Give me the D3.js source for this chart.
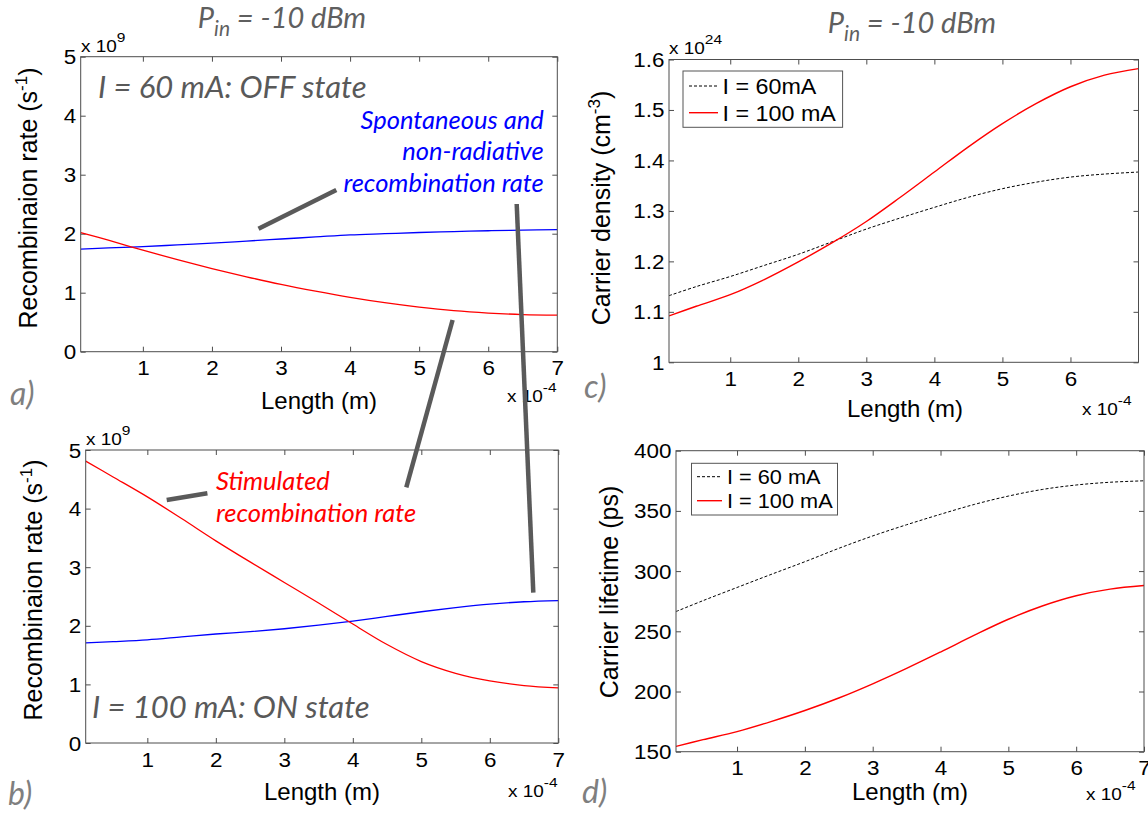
<!DOCTYPE html>
<html>
<head>
<meta charset="utf-8">
<script src="https://cdn.jsdelivr.net/npm/d3@7"></script>
<style>
  body { margin: 0; background: #fff; }
  svg { display: block; }
</style>
</head>
<body>
<svg id="fig" width="1148" height="814"></svg>
<script>
// Position along the waveguide, in units of 1e-4 m
const lengths = [0.1, 0.5, 1, 1.5, 2, 2.5, 3, 3.5, 4, 4.5, 5, 5.5, 6, 6.5, 7];

// Recombination rates (x 1e9 s^-1)
const spontOff = [1.74, 1.76, 1.78, 1.81, 1.84, 1.875, 1.91, 1.945, 1.98, 2.0, 2.02, 2.035, 2.05, 2.06, 2.07];
const stimOff  = [2.02, 1.89, 1.72, 1.56, 1.41, 1.27, 1.14, 1.025, 0.92, 0.83, 0.755, 0.695, 0.655, 0.63, 0.62];
const spontOn  = [1.71, 1.73, 1.76, 1.81, 1.86, 1.90, 1.95, 2.01, 2.08, 2.16, 2.24, 2.31, 2.37, 2.41, 2.43];
const stimOn   = [4.81, 4.54, 4.2, 3.83, 3.45, 3.09, 2.74, 2.39, 2.03, 1.68, 1.39, 1.19, 1.06, 0.98, 0.94];

// Carrier density (x 1e24 cm^-3)
const density60  = [1.132, 1.150, 1.170, 1.192, 1.214, 1.239, 1.264, 1.286, 1.307, 1.327, 1.344, 1.357, 1.367, 1.373, 1.377];
const density100 = [1.092, 1.111, 1.134, 1.164, 1.199, 1.237, 1.279, 1.327, 1.377, 1.427, 1.473, 1.513, 1.546, 1.569, 1.582];

// Carrier lifetime (ps)
const lifetime60  = [266.4, 275.5, 286.4, 297.2, 307.8, 318.9, 329.2, 338.5, 347.2, 355.4, 362.3, 367.8, 371.5, 373.8, 375];
const lifetime100 = [154.4, 160, 166.7, 175, 184.2, 194.6, 206.4, 219.2, 232.8, 246.8, 260, 271, 279.5, 285, 288];

// Tick values
const lengthTicks   = [1, 2, 3, 4, 5, 6, 7];
const lengthTicksC  = [1, 2, 3, 4, 5, 6];
const rateTicks     = [0, 1, 2, 3, 4, 5];
const densityTicks  = [1, 1.1, 1.2, 1.3, 1.4, 1.5, 1.6];
const lifetimeTicks = [150, 200, 250, 300, 350, 400];

// Legend labels
const legendC = ["I = 60mA", "I = 100 mA"];
const legendD = ["I = 60 mA", "I = 100 mA"];

const svg = d3.select("#fig");
svg.append("rect").attr("width", 1148).attr("height", 814).attr("fill", "#fff");

const AX_FONT = "'Liberation Sans', Arial, Helvetica, sans-serif";
const NOTE_FONT = "Lato, 'Open Sans', sans-serif";
const FRAME = "#4d4d4d";
const STRETCH = 1.15;

let clipId = 0;

function drawPanel(cfg) {
  const x = d3.scaleLinear().domain(cfg.xDomain).range([cfg.left, cfg.right]);
  const y = d3.scaleLinear().domain(cfg.yDomain).range([cfg.bottom, cfg.top]);
  const g = svg.append("g");
  const w = cfg.right - cfg.left, h = cfg.bottom - cfg.top;

  // inward ticks on all four sides
  const axB = g.append("g").attr("transform", `translate(0,${cfg.bottom})`)
    .call(d3.axisBottom(x).tickValues(cfg.xTicks).tickSizeInner(-5).tickSizeOuter(0).tickPadding(5).tickFormat(d3.format("d")));
  const axT = g.append("g").attr("transform", `translate(0,${cfg.top})`)
    .call(d3.axisTop(x).tickValues(cfg.xTicks).tickSizeInner(-5).tickSizeOuter(0).tickFormat(""));
  const axL = g.append("g").attr("transform", `translate(${cfg.left},0)`)
    .call(d3.axisLeft(y).tickValues(cfg.yTicks).tickSizeInner(-5).tickSizeOuter(0).tickPadding(4).tickFormat(cfg.yFormat));
  const axR = g.append("g").attr("transform", `translate(${cfg.right},0)`)
    .call(d3.axisRight(y).tickValues(cfg.yTicks).tickSizeInner(-5).tickSizeOuter(0).tickFormat(""));

  [axB, axT, axL, axR].forEach(a => {
    a.select(".domain").remove();
    a.selectAll(".tick line").attr("stroke", FRAME).attr("stroke-width", 1);
    a.selectAll("text").attr("font-family", AX_FONT).attr("font-size", 19.5).attr("fill", "#000");
  });
  axB.selectAll(".tick text").attr("dy", "0.95em").attr("transform", `scale(${STRETCH},1)`);
  axL.selectAll(".tick text").attr("transform", `scale(${STRETCH},1)`).attr("dy", "0.36em");

  // data lines
  const cid = "clip" + (clipId++);
  g.append("clipPath").attr("id", cid).append("rect")
    .attr("x", cfg.left).attr("y", cfg.top).attr("width", w).attr("height", h);
  const lineGen = d3.line().x((d, i) => x(lengths[i])).y(d => y(d)).curve(d3.curveCatmullRom.alpha(0.5));
  cfg.series.forEach(s => {
    g.append("path").attr("d", lineGen(s.values)).attr("clip-path", `url(#${cid})`)
      .attr("fill", "none").attr("stroke", s.color).attr("stroke-width", s.width)
      .attr("stroke-dasharray", s.dash || null);
  });

  // frame
  g.append("rect").attr("x", cfg.left).attr("y", cfg.top).attr("width", w).attr("height", h)
    .attr("fill", "none").attr("stroke", FRAME).attr("stroke-width", 1);

  // axis labels
  g.append("text").attr("x", cfg.xLabelPos[0]).attr("y", cfg.xLabelPos[1])
    .attr("text-anchor", "middle").attr("font-family", AX_FONT).attr("font-size", 24)
    .text("Length (m)");

  const yl = g.append("text")
    .attr("transform", `translate(${cfg.yLabelPos[0]},${cfg.yLabelPos[1]}) rotate(-90)`)
    .attr("text-anchor", "middle").attr("font-family", AX_FONT).attr("font-size", 25);
  yl.append("tspan").text(cfg.yLabel[0]);
  if (cfg.yLabel[1]) {
    yl.append("tspan").attr("dy", -10).attr("font-size", 17).text(cfg.yLabel[1]);
    yl.append("tspan").attr("dy", 10).text(cfg.yLabel[2]);
  }

  // multiplier labels
  if (cfg.yExp) expLabel(g, cfg.yExpPos, cfg.yExp);
  expLabel(g, cfg.xExpPos, "-4");

  return { g, x, y };
}

function expLabel(g, pos, exp) {
  const t = g.append("text")
    .attr("transform", `translate(${pos[0]},${pos[1]}) scale(${STRETCH},1)`)
    .attr("font-family", AX_FONT).attr("font-size", 16.5);
  t.append("tspan").text("x 10");
  t.append("tspan").attr("dy", -10).attr("font-size", 13.5).text(exp);
}

function note(lines, x, y0, step, color, size, anchor) {
  const t = svg.append("text").attr("font-family", NOTE_FONT).attr("font-style", "italic")
    .attr("font-size", size).attr("fill", color).attr("text-anchor", anchor);
  lines.forEach((s, i) => t.append("tspan").attr("x", x).attr("y", y0 + i * step).text(s));
}

function legend(pos, labels, size, rows) {
  const g = svg.append("g");
  g.append("rect").attr("x", pos.x).attr("y", pos.y).attr("width", pos.w).attr("height", pos.h)
    .attr("fill", "#fff").attr("stroke", "#555").attr("stroke-width", 1);
  const styles = [
    { color: "#000", width: 1, dash: "3,2" },
    { color: "#ff0000", width: 1.4, dash: null }
  ];
  labels.forEach((lab, i) => {
    const cy = rows[i];
    g.append("line").attr("x1", pos.lx0).attr("x2", pos.lx1).attr("y1", cy).attr("y2", cy)
      .attr("stroke", styles[i].color).attr("stroke-width", styles[i].width)
      .attr("stroke-dasharray", styles[i].dash);
    g.append("text").attr("transform", `translate(${pos.tx},${cy}) scale(1.06,1)`)
      .attr("dy", "0.36em").attr("font-family", AX_FONT).attr("font-size", size).text(lab);
  });
}

const fmtRate = d3.format("d");
const fmtDensity = d => (d === 1 ? "1" : d3.format(".1f")(d));

// a) OFF state recombination rates
drawPanel({
  left: 80.7, right: 557.3, top: 56.7, bottom: 351.7,
  xDomain: [0.1, 7], yDomain: [0, 5],
  xTicks: lengthTicks, yTicks: rateTicks, yFormat: fmtRate,
  series: [
    { values: spontOff, color: "#0000ff", width: 1.3 },
    { values: stimOff, color: "#ff0000", width: 1.3 }
  ],
  xLabelPos: [319, 409], yLabelPos: [37, 198], yLabel: ["Recombinaion rate (s", "-1", ")"],
  yExpPos: [81, 52], yExp: "9", xExpPos: [507, 402]
});

// b) ON state recombination rates
drawPanel({
  left: 85.7, right: 558.3, top: 450, bottom: 743,
  xDomain: [0.1, 7], yDomain: [0, 5],
  xTicks: lengthTicks, yTicks: rateTicks, yFormat: fmtRate,
  series: [
    { values: spontOn, color: "#0000ff", width: 1.3 },
    { values: stimOn, color: "#ff0000", width: 1.3 }
  ],
  xLabelPos: [322, 800], yLabelPos: [42, 590], yLabel: ["Recombinaion rate (s", "-1", ")"],
  yExpPos: [86, 445], yExp: "9", xExpPos: [508, 797]
});

// c) carrier density
drawPanel({
  left: 669, right: 1138.5, top: 59.5, bottom: 362.3,
  xDomain: [0.1, 7], yDomain: [1, 1.6],
  xTicks: lengthTicksC, yTicks: densityTicks, yFormat: fmtDensity,
  series: [
    { values: density60, color: "#000", width: 1, dash: "3,2" },
    { values: density100, color: "#ff0000", width: 1.4 }
  ],
  xLabelPos: [905, 417], yLabelPos: [610, 208], yLabel: ["Carrier density (cm", "-3", ")"],
  yExpPos: [669, 54], yExp: "24", xExpPos: [1082, 415]
});

// d) carrier lifetime
drawPanel({
  left: 676, right: 1144, top: 450.7, bottom: 751.7,
  xDomain: [0.1, 7], yDomain: [150, 400],
  xTicks: lengthTicks, yTicks: lifetimeTicks, yFormat: d3.format("d"),
  series: [
    { values: lifetime60, color: "#000", width: 1, dash: "3,2" },
    { values: lifetime100, color: "#ff0000", width: 1.4 }
  ],
  xLabelPos: [910, 800], yLabelPos: [618, 592], yLabel: ["Carrier lifetime (ps)", "", ""],
  yExp: "", xExpPos: [1086, 800]
});

legend({ x: 683, y: 71, w: 159.6, h: 56.3, lx0: 689, lx1: 718, tx: 722.5 }, legendC, 22, [86, 112.7]);
legend({ x: 691.5, y: 463.3, w: 146, h: 51.7, lx0: 697, lx1: 722, tx: 727 }, legendD, 20.5, [476.7, 500.7]);

// titles
function title(cx, baseline) {
  const t = svg.append("text").attr("x", cx).attr("y", baseline).attr("text-anchor", "middle")
    .attr("font-family", NOTE_FONT).attr("font-style", "italic").attr("font-size", 29).attr("fill", "#5f5f5f");
  t.append("tspan").text("P");
  t.append("tspan").attr("dy", 8).attr("font-size", 21).text("in");
  t.append("tspan").attr("dy", -8).text(" = -10 dBm");
}
title(282, 28);
title(912, 33);

// panel letters
[["a)", 10, 405], ["b)", 8, 805], ["c)", 584, 398], ["d)", 582, 803]].forEach(([s, px, py]) => {
  svg.append("text").attr("x", px).attr("y", py).attr("font-family", NOTE_FONT)
    .attr("font-style", "italic").attr("font-size", 32).attr("fill", "#7f7f7f").text(s);
});

// state annotations
note(["I = 60 mA: OFF state"], 98, 97.5, 0, "#595959", 31, "start");
note(["I = 100 mA: ON state"], 92, 718, 0, "#595959", 31, "start");
note(["Spontaneous and", "non-radiative", "recombination rate"], 543.7, 129, 31.3, "#0000ff", 25.5, "end");
note(["Stimulated", "recombination rate"], 216, 490, 31.7, "#ff0000", 25.5, "start");

// pointer lines from the annotations to the curves
const pointers = [
  [[336.3, 190], [258.5, 228.7]],
  [[516.7, 204], [533.3, 592.7]],
  [[452.6, 320], [406.3, 487.3]],
  [[207.4, 493.3], [166.7, 500]]
];
pointers.forEach(([p0, p1]) => {
  svg.append("line").attr("x1", p0[0]).attr("y1", p0[1]).attr("x2", p1[0]).attr("y2", p1[1])
    .attr("stroke", "#5a5a5a").attr("stroke-width", 4.5);
});
</script>
</body>
</html>
